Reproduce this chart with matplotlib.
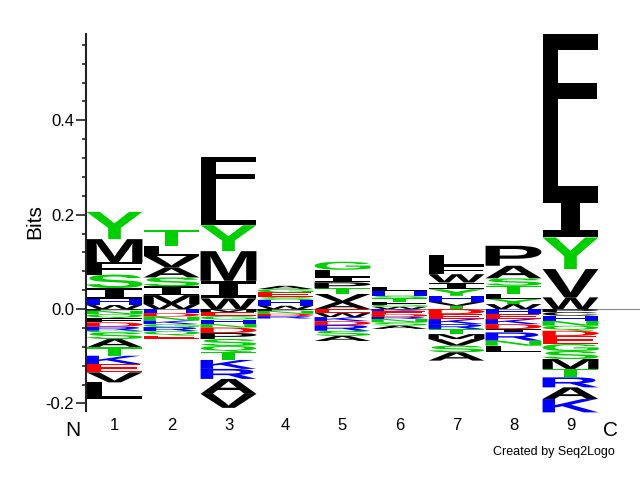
import matplotlib
matplotlib.use("Agg")
import matplotlib.pyplot as plt
from matplotlib.textpath import TextPath
from matplotlib.patches import PathPatch
from matplotlib.font_manager import FontProperties
from matplotlib.transforms import Affine2D

plt.rcParams['font.family'] = ['Liberation Sans', 'DejaVu Sans']

positions = [1, 2, 3, 4, 5, 6, 7, 8, 9]

# letters listed from the zero line outwards
pos_letters = ["WHISFMY", "WMISAVLT", "WIMYLF", "WHSEGA", "AVTPILG",
               "WGFTSHL", "TVHYIWFL", "WYLTSAP", "WVYILF"]
pos_heights = [
    [0.0085, 0.0127, 0.0233, 0.0286, 0.0258, 0.0493, 0.0578],
    [0.0106, 0.019, 0.0184, 0.019, 0.0212, 0.0245, 0.0212, 0.0339],
    [0.0227, 0.0372, 0.0628, 0.055, 0.0692, 0.0762],
    [0.007, 0.012, 0.0063, 0.01, 0.007, 0.007],
    [0.015, 0.017, 0.012, 0.0127, 0.0106, 0.016, 0.017],
    [0.005, 0.0042, 0.0063, 0.008, 0.005, 0.0106, 0.007],
    [0.007, 0.0078, 0.0133, 0.0141, 0.0141, 0.0176, 0.017, 0.0233],
    [0.0106, 0.0106, 0.0106, 0.0176, 0.0157, 0.0267, 0.0423],
    [0.0248, 0.06, 0.067, 0.088, 0.1235, 0.2207],
]
neg_letters = ["PNQFDRGSATKEVL", "HDNKGRQE", "MEGHNDPSQTKRAV", "PNDR",
               "EWKDRSA", "KEDRNSA", "DEKRTMVSA", "HEKDIRNL",
               "PCHNQDEGSMTRAK"]
neg_heights = [
    [0.0036, 0.007, 0.009, 0.0085, 0.0093, 0.0085, 0.0034, 0.0142, 0.0176,
     0.0178, 0.0176, 0.0176, 0.0212, 0.0353],
    [0.0085, 0.0074, 0.0085, 0.0074, 0.0063, 0.0085, 0.0095, 0.0074],
    [0.0063, 0.0085, 0.0074, 0.0095, 0.0074, 0.0116, 0.0127, 0.0148, 0.0127,
     0.0169, 0.019, 0.0212, 0.0317, 0.0296],
    [0.004, 0.006, 0.005, 0.005],
    [0.0085, 0.0085, 0.0085, 0.0085, 0.012, 0.011, 0.0106],
    [0.0042, 0.0063, 0.0063, 0.0042, 0.007, 0.007, 0.007],
    [0.0106, 0.0106, 0.0106, 0.0106, 0.0106, 0.0106, 0.014, 0.014, 0.0176],
    [0.0106, 0.0106, 0.0106, 0.0106, 0.007, 0.0176, 0.0106, 0.014],
    [0.0063, 0.0078, 0.0112, 0.01, 0.0106, 0.0112, 0.017, 0.0148, 0.017,
     0.0212, 0.0176, 0.0212, 0.0248, 0.0282],
]

colors = {}
for c in "ACFILMPVW":
    colors[c] = '#000000'
for c in "GNQSTY":
    colors[c] = '#00d000'
for c in "HKR":
    colors[c] = '#0000ff'
for c in "DE":
    colors[c] = '#ff0000'

bold_fp = FontProperties(family='Liberation Sans', weight='bold')
mono_fp = FontProperties(family='DejaVu Sans Mono', weight='bold')


def draw_letter(ax, ch, x, y, w, h):
    fp = mono_fp if ch == 'I' else bold_fp
    tp = TextPath((0, 0), ch, size=1, prop=fp)
    bb = tp.get_extents()
    t = Affine2D().translate(-bb.x0, -bb.y0).scale(w / bb.width, h / bb.height).translate(x, y)
    ax.add_patch(PathPatch(t.transform_path(tp), facecolor=colors[ch],
                           edgecolor='none', clip_on=False, zorder=2))


fig = plt.figure(figsize=(6.4, 4.8), dpi=100)
ax = fig.add_axes([86 / 640, 69 / 480, 554 / 640, 377.5 / 480])
ax.set_xlim(0.5, 0.5 + 554 / 57)
ax.set_ylim(-0.216, 0.584)

ax.axhline(0, color='#888888', lw=0.8, zorder=1)

w = 0.98
for i, p in enumerate(positions):
    y = 0.0
    for ch, h in zip(pos_letters[i], pos_heights[i]):
        draw_letter(ax, ch, p - w / 2, y, w, h)
        y += h
    y = 0.0
    for ch, h in zip(neg_letters[i], neg_heights[i]):
        y -= h
        draw_letter(ax, ch, p - w / 2, y, w, h)

for s in ['top', 'right', 'bottom']:
    ax.spines[s].set_visible(False)
ax.spines['left'].set_linewidth(1.5)
ax.spines['left'].set_color('#222222')
ax.set_xticks([])
ax.set_yticks([-0.2, 0.0, 0.2, 0.4])
ax.set_yticklabels(['-0.2', '0.0', '0.2', '0.4'], fontsize=12)
ax.set_yticks([-0.2 + 0.04 * k for k in range(20)], minor=True)
ax.tick_params(axis='y', which='major', length=7, width=1.2, color='#222222', pad=1.5)
ax.tick_params(axis='y', which='minor', length=3, width=1.2, color='#222222')

fig.text(35 / 640, 1 - 222 / 480, 'Bits', rotation=90, fontsize=15, ha='center', va='center')
for p in positions:
    fig.text((86 + (p - 0.5) * 57) / 640, 1 - 426 / 480, str(p), fontsize=12, ha='center', va='center')
fig.text(73 / 640, 1 - 430 / 480, 'N', fontsize=15, ha='center', va='center')
fig.text(610 / 640, 1 - 430 / 480, 'C', fontsize=15, ha='center', va='center')
fig.text(615 / 640, 1 - 452 / 480, 'Created by Seq2Logo', fontsize=9, ha='right', va='center')

fig.savefig('out.png', dpi=100)
